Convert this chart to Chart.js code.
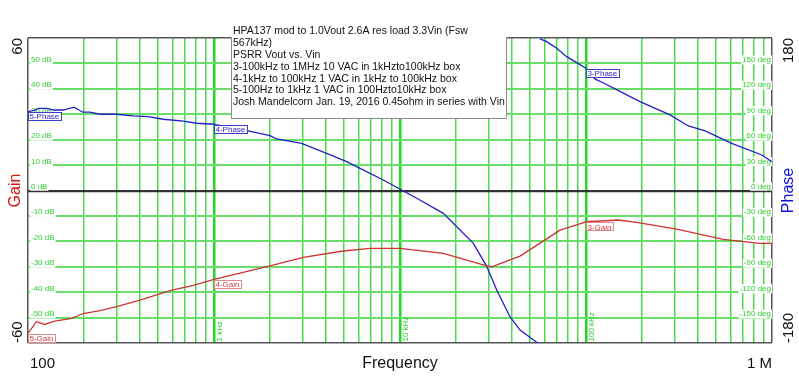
<!DOCTYPE html>
<html><head><meta charset="utf-8">
<script src="https://cdn.jsdelivr.net/npm/chart.js@4.4.0/dist/chart.umd.min.js"></script>
<style>html,body{margin:0;padding:0;background:#fff;overflow:hidden}canvas{display:block}</style>
</head><body>
<canvas id="c" width="799" height="382"></canvas>
<script>
// ---- tick values ----
const freqTicks = [100,200,300,400,500,600,700,800,900,
  1000,2000,3000,4000,5000,6000,7000,8000,9000,
  10000,20000,30000,40000,50000,60000,70000,80000,90000,
  100000,200000,300000,400000,500000,600000,700000,800000,900000,1000000];
const decadeTicks = [1000,10000,100000];
const decadeLabels = ['1 kHz','10 kHz','100 kHz'];
const gainTicks = [-60,-50,-40,-30,-20,-10,0,10,20,30,40,50,60];
const gainInnerLabels = [50,40,30,20,10,0,-10,-20,-30,-40,-50];
const phaseInnerLabels = [150,120,90,60,30,0,-30,-60,-90,-120,-150];

// ---- series (Hz, dB / deg) ----
const gain5Freq = [100,111,123,137,172,198,244,300,400,580,774,1000];
const gain5Val  = [-56.2,-51.6,-52.7,-51.5,-50.3,-48.4,-47.3,-45.7,-43.1,-39.4,-37.3,-35.0];
const gain4Freq = [1000,2000,3020,4960,6900,10000,17100,29200,31100,44200,58900,72500,100000];
const gain4Val  = [-35.0,-29.7,-26.3,-23.8,-22.8,-22.8,-24.7,-29.7,-30.0,-25.8,-19.9,-15.6,-12.3];
const gain3Freq = [100000,149000,187000,307000,547000,861000,1000000];
const gain3Val  = [-12.3,-11.6,-12.5,-15.2,-19.2,-20.8,-20.8];

const phase5Freq = [100,109,114,126,137,155,177,197,215,244,300,368,443,534,683,808,1000];
const phase5Val  = [93.1,95,97,97,95,95,98.3,92.4,92.4,90,90,88,87.2,84.1,82,79.4,78.2];
const phase4Freq = [1000,1500,2000,2170,2960,4030,5170,6100,8130,10200,12300,17100,20200,24800,29200,33100,39000,44200,55400,
                    56000,56600,61500,69600,78700,89100,100000];
const phase4Val  = [78.2,70.6,64.7,60.8,55.7,43.9,34,26.2,12.4,0.6,-9.2,-27,-42.7,-62.4,-89.2,-117.5,-149,-164.8,-180.5,
                    null,179,175.7,168,158,151,144.3];
const phase3Freq = [100000,111700,126500,146800,195000,283000,355000,437000,607000,881000,1000000];
const phase3Val  = [144.3,131.7,126,118.7,104.9,89.2,76.2,70.3,55.7,41.9,34];

const noteLines = [
  'HPA137 mod to 1.0Vout 2.6A res load 3.3Vin (Fsw',
  '567kHz)',
  'PSRR Vout vs. Vin',
  '3-100kHz to 1MHz 10 VAC in 1kHzto100kHz box',
  '4-1kHz to 100kHz 1 VAC in 1kHz to 100kHz box',
  '5-100Hz to 1kHz 1 VAC in 100Hzto10kHz box',
  'Josh Mandelcorn Jan. 19, 2016 0.45ohm in series with Vin'
];

const FONT = '"Liberation Sans", Arial, sans-serif';
const GREEN = '#2fcf2f';
const RED = '#cc3333';
const BLUE = '#2020c4';

function pts(f, v){ return f.map((x,i)=>({x:x, y:v[i]})); }

const datasets = [
  {label:'5-Gain', data:pts(gain5Freq,gain5Val), yAxisID:'y', borderColor:RED},
  {label:'4-Gain', data:pts(gain4Freq,gain4Val), yAxisID:'y', borderColor:RED},
  {label:'3-Gain', data:pts(gain3Freq,gain3Val), yAxisID:'y', borderColor:RED},
  {label:'5-Phase', data:pts(phase5Freq,phase5Val), yAxisID:'y1', borderColor:BLUE},
  {label:'4-Phase', data:pts(phase4Freq,phase4Val), yAxisID:'y1', borderColor:BLUE},
  {label:'3-Phase', data:pts(phase3Freq,phase3Val), yAxisID:'y1', borderColor:BLUE}
].map(d=>Object.assign(d,{borderWidth:1.3,pointRadius:0,tension:0,fill:false,spanGaps:false}));

function rotText(ctx, t, x, y, align){
  ctx.save(); ctx.translate(x,y); ctx.rotate(-Math.PI/2);
  ctx.textAlign = align; ctx.fillText(t,0,0); ctx.restore();
}

const deco = {
  id:'deco',
  beforeDatasetsDraw(chart){
    const ctx = chart.ctx, a = chart.chartArea, ys = chart.scales.y, y1 = chart.scales.y1, xs = chart.scales.x;
    ctx.save();
    ctx.font = '8px ' + FONT;
    ctx.textBaseline = 'alphabetic';
    gainInnerLabels.forEach(v=>{
      const py = ys.getPixelForValue(v), t = v + ' dB', w = ctx.measureText(t).width;
      ctx.fillStyle = '#fff'; ctx.fillRect(a.left+2, py-8, w+2, 9);
      ctx.fillStyle = GREEN; ctx.textAlign = 'left'; ctx.fillText(t, a.left+3, py-1.5);
    });
    phaseInnerLabels.forEach(v=>{
      const py = y1.getPixelForValue(v), t = v + ' deg', w = ctx.measureText(t).width;
      ctx.fillStyle = '#fff'; ctx.fillRect(a.right-2-w, py-8, w+2, 9);
      ctx.fillStyle = GREEN; ctx.textAlign = 'right'; ctx.fillText(t, a.right-1, py-1.5);
    });
    // zero line on top
    const z = Math.round(ys.getPixelForValue(0)) + 0.5;
    ctx.strokeStyle = '#333'; ctx.lineWidth = 1.5;
    ctx.beginPath(); ctx.moveTo(a.left, z); ctx.lineTo(a.right, z); ctx.stroke();
    // decade labels
    ctx.fillStyle = GREEN; ctx.font = '8px ' + FONT;
    decadeTicks.forEach((f,i)=>{
      const px = xs.getPixelForValue(f);
      rotText(ctx, decadeLabels[i], px+7.5, a.bottom-1.5, 'left');
    });
    ctx.restore();
  },
  afterDatasetsDraw(chart){
    const ctx = chart.ctx, a = chart.chartArea, xs = chart.scales.x;
    ctx.save();
    // curve labels
    ctx.font = '8px ' + FONT;
    ctx.textBaseline = 'alphabetic';
    chart.data.datasets.forEach(ds=>{
      const p = ds.data[0];
      const sc = chart.scales[ds.yAxisID];
      const px = xs.getPixelForValue(p.x), py = sc.getPixelForValue(p.y) + 0.5;
      const w = ctx.measureText(ds.label).width + 3;
      const isGain = ds.yAxisID === 'y';
      ctx.fillStyle = '#fff'; ctx.fillRect(px, py, w, 8.5);
      ctx.strokeStyle = isGain ? '#de8a8a' : '#3a3acc'; ctx.lineWidth = 1;
      ctx.strokeRect(Math.round(px)+0.5, Math.round(py)+0.5, Math.round(w), 8);
      ctx.fillStyle = isGain ? '#cc4040' : '#2a2ac8';
      ctx.textAlign = 'left';
      ctx.fillText(ds.label, px+1.5, py+7.3);
    });
    // note box
    const bx = 231.5, by = 22, bw = 275, bb = 118.5;
    ctx.fillStyle = '#fff'; ctx.fillRect(bx, by, bw, bb-by);
    ctx.strokeStyle = '#8a8a8a'; ctx.lineWidth = 1;
    ctx.beginPath();
    ctx.moveTo(bx, a.top); ctx.lineTo(bx, bb); ctx.lineTo(bx+bw, bb); ctx.lineTo(bx+bw, a.top);
    ctx.stroke();
    ctx.fillStyle = '#111'; ctx.font = '10.5px ' + FONT; ctx.textAlign = 'left';
    noteLines.forEach((t,i)=> ctx.fillText(t, 233, 34.3 + i*11.83));
    // outer axis texts
    ctx.font = '15px ' + FONT; ctx.fillStyle = '#111';
    rotText(ctx, '60', 22, a.top, 'right');
    rotText(ctx, '-60', 22, a.bottom, 'left');
    rotText(ctx, '180', 792.5, a.top, 'right');
    rotText(ctx, '-180', 792.5, a.bottom, 'left');
    ctx.font = '16px ' + FONT;
    ctx.fillStyle = '#dd1111';
    rotText(ctx, 'Gain', 19.5, (a.top+a.bottom)/2, 'center');
    ctx.fillStyle = '#1111dd';
    rotText(ctx, 'Phase', 792.5, (a.top+a.bottom)/2, 'center');
    ctx.fillStyle = '#111'; ctx.font = '15px ' + FONT;
    ctx.textAlign = 'left'; ctx.fillText('100', a.left+2, 368);
    ctx.textAlign = 'right'; ctx.fillText('1 M', a.right, 368);
    ctx.font = '16px ' + FONT; ctx.textAlign = 'center';
    ctx.fillText('Frequency', (a.left+a.right)/2, 368);
    ctx.restore();
  }
};

new Chart(document.getElementById('c'), {
  type:'line',
  data:{datasets:datasets},
  options:{
    responsive:false, animation:false, devicePixelRatio:1,
    layout:{padding:{left:28, top:38, right:27, bottom:39}},
    plugins:{legend:{display:false}, tooltip:{enabled:false}},
    scales:{
      x:{type:'logarithmic', min:100, max:1000000,
        afterBuildTicks:s=>{ s.ticks = freqTicks.map(v=>({value:v})); },
        ticks:{display:false, autoSkip:false},
        border:{display:false},
        grid:{drawTicks:false,
          color:c=>{ const v=c.tick.value; if(v===100||v===1000000) return '#555'; return decadeTicks.includes(v)?'#22d822':'#4ddc4d'; },
          lineWidth:c=>{ const v=c.tick.value; if(v===100||v===1000000) return 1.5; return decadeTicks.includes(v)?2.5:1.5; }
        }
      },
      y:{type:'linear', min:-60, max:60, position:'left',
        afterBuildTicks:s=>{ s.ticks = gainTicks.map(v=>({value:v})); },
        ticks:{display:false, autoSkip:false},
        border:{display:false},
        grid:{drawTicks:false,
          color:c=>{ const v=c.tick.value; if(v===60||v===-60) return '#555'; if(v===0) return '#333'; return '#6ade6a'; },
          lineWidth:c=>{ const v=c.tick.value; if(v===60||v===-60||v===0) return 1.5; return 2; }
        }
      },
      y1:{type:'linear', min:-180, max:180, position:'right', display:false}
    }
  },
  plugins:[deco]
});
</script>
</body></html>
